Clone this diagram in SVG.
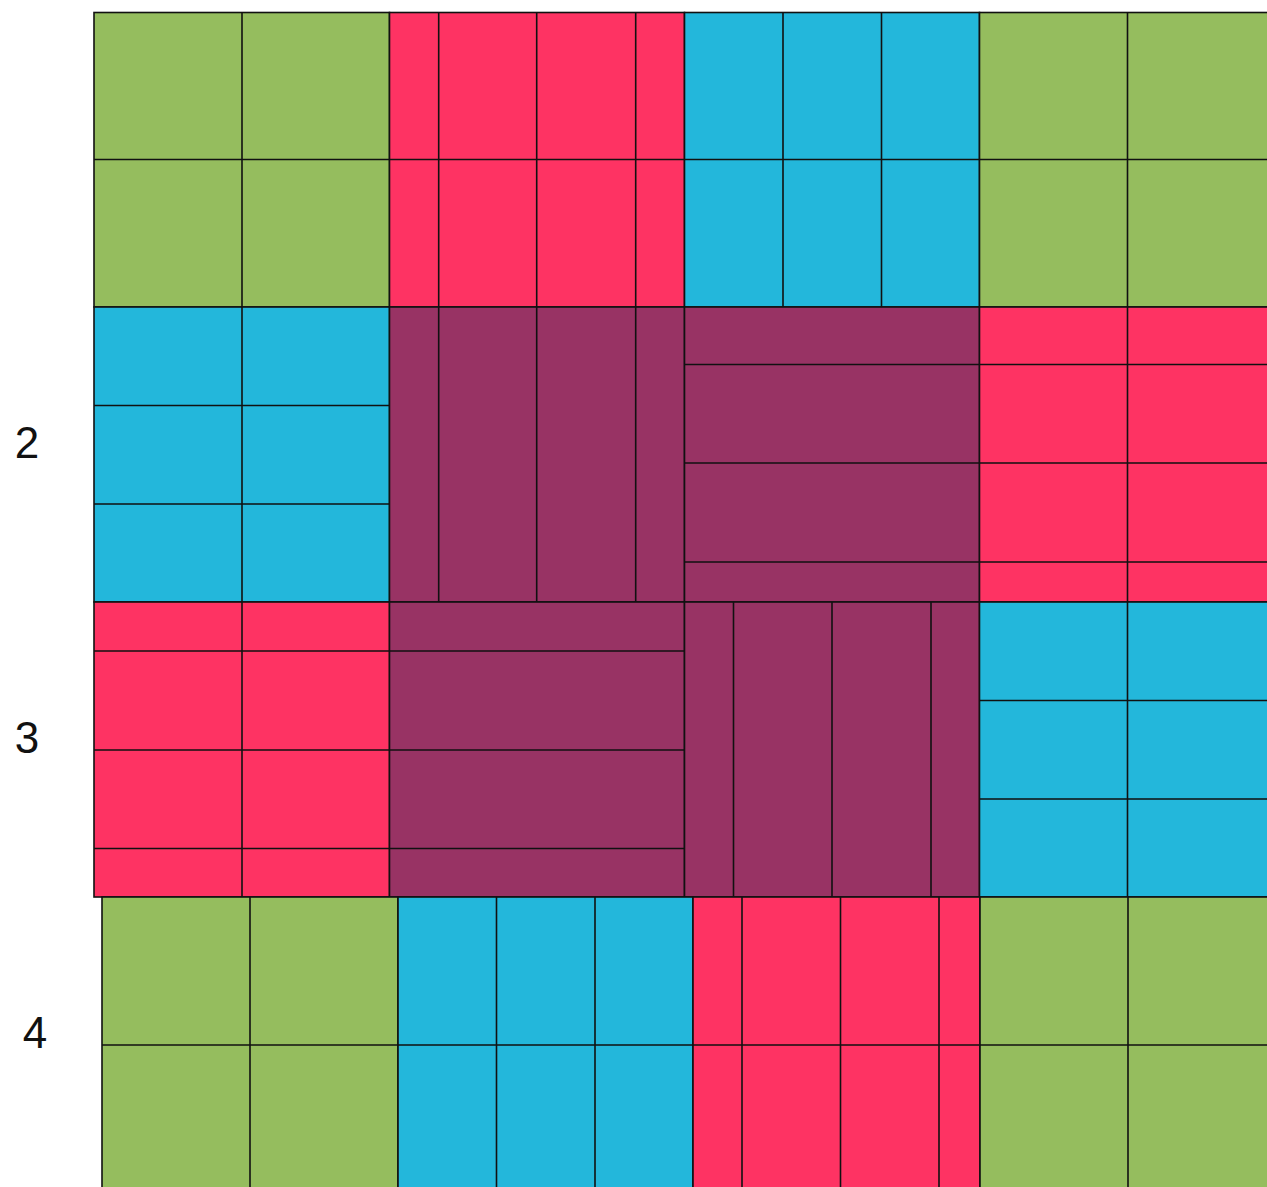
<svg xmlns="http://www.w3.org/2000/svg" width="1267" height="1187" viewBox="0 0 1267 1187">
<style>
.g{fill:#95BD5E}.r{fill:#FE3363}.b{fill:#23B7DB}.p{fill:#983364}
rect,path{stroke:#111;stroke-width:1.6}
path{fill:none}
text{font-family:"Liberation Sans",Arial,sans-serif;font-size:44px;fill:#111;text-anchor:middle}
</style>
<rect x="0" y="0" width="1267" height="1187" fill="#fff" style="stroke:none"/>
<g id="A"><rect class="g" x="94" y="12.5" width="295.5" height="294.5"/><path d="M242 12.5V307M94 159.5H389.5"/></g>
<g id="B"><rect class="r" x="389.5" y="12.5" width="295" height="294.5"/><path d="M438.7 12.5V307M536.7 12.5V307M635.7 12.5V307M389.5 159.5H684.5"/></g>
<g id="C"><rect class="b" x="684.5" y="12.5" width="295" height="294.5"/><path d="M783 12.5V307M881.5 12.5V307M684.5 159.5H979.5"/></g>
<g id="D"><rect class="g" x="979.5" y="12.5" width="300" height="294.5"/><path d="M1127.5 12.5V307M979.5 159.5H1280"/></g>
<g id="E"><rect class="b" x="94" y="307" width="295.5" height="295"/><path d="M242 307V602M94 405.5H389.5M94 504H389.5"/></g>
<g id="F"><rect class="p" x="389.5" y="307" width="295" height="295"/><path d="M438.7 307V602M536.7 307V602M635.7 307V602"/></g>
<g id="G"><rect class="p" x="684.5" y="307" width="295" height="295"/><path d="M684.5 364.5H979.5M684.5 463H979.5M684.5 562H979.5"/></g>
<g id="H"><rect class="r" x="979.5" y="307" width="300" height="295"/><path d="M1127.5 307V602M979.5 364.5H1280M979.5 463H1280M979.5 562H1280"/></g>
<g id="I"><rect class="r" x="94" y="602" width="295.5" height="295"/><path d="M242 602V897M94 651H389.5M94 750H389.5M94 848.5H389.5"/></g>
<g id="J"><rect class="p" x="389.5" y="602" width="295" height="295"/><path d="M389.5 651H684.5M389.5 750H684.5M389.5 848.5H684.5"/></g>
<g id="K"><rect class="p" x="684.5" y="602" width="295" height="295"/><path d="M733.5 602V897M832 602V897M931 602V897"/></g>
<g id="L"><rect class="b" x="979.5" y="602" width="300" height="295"/><path d="M1127.5 602V897M979.5 700.5H1280M979.5 799H1280"/></g>
<g id="M"><rect class="g" x="102" y="897" width="296" height="300"/><path d="M250 897V1197M102 1045H398"/></g>
<g id="N"><rect class="b" x="398" y="897" width="295" height="300"/><path d="M496.5 897V1197M595 897V1197M398 1045H693"/></g>
<g id="O"><rect class="r" x="693" y="897" width="287" height="300"/><path d="M742 897V1197M840.5 897V1197M939 897V1197M693 1045H980"/></g>
<g id="P"><rect class="g" x="980" y="897" width="300" height="300"/><path d="M1128 897V1197M980 1045H1280"/></g>
<g id="labels">
<text x="27" y="458">2</text>
<text x="27" y="753">3</text>
<text x="35" y="1048">4</text>
</g>
</svg>
